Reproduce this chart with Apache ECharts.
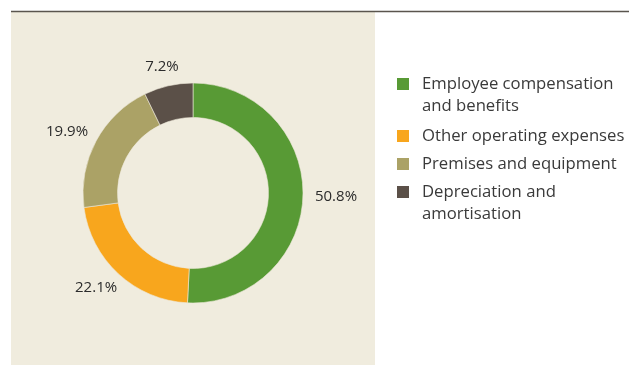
<!DOCTYPE html>
<html>
<head>
<meta charset="utf-8">
<title>Operating expenses</title>
<script src="https://cdn.jsdelivr.net/npm/echarts@6/dist/echarts.min.js"></script>
<style>
  html, body { margin: 0; padding: 0; background: #ffffff; }
  #chart { width: 629px; height: 365px; }
</style>
</head>
<body>
<div id="chart"></div>
<script>
// Expense breakdown, share of total (%)
const categories = [
  'Employee compensation\nand benefits',
  'Other operating expenses',
  'Premises and equipment',
  'Depreciation and\namortisation'
];
const shares = [50.8, 22.1, 19.9, 7.2];
const colors = ['#589a35', '#f8a61d', '#aba266', '#5b5048'];

// Ring geometry
const CX = 193, CY = 193;
const R_IN = 75.5, R_OUT = 110;
const LABEL_RADIUS = 122;
const LABEL_FONT = 15;

const total = shares.reduce((a, b) => a + b, 0);

// Places each percentage outside the ring: the anchor sits on a circle at the
// slice's mid-angle and the box is aligned continuously with that direction
function placeLabel(params) {
  const i = params.dataIndex;
  let before = 0;
  for (let k = 0; k < i; k++) before += shares[k];
  const mid = (before + shares[i] / 2) / total * Math.PI * 2;
  const dx = Math.sin(mid), dy = -Math.cos(mid);
  const w = params.labelRect.width, h = LABEL_FONT;
  return {
    x: CX + dx * LABEL_RADIUS + dx * w / 2,
    y: CY + dy * LABEL_RADIUS + dy * h / 2,
    align: 'center',
    verticalAlign: 'middle'
  };
}

// One legend block per entry; two-line entries use a tall icon box whose
// square sits at the top so it lines up with the first text line
const legendTops = [73, 125, 153, 181];
const SQUARE_TOP = 'path://M0,0L12,0L12,12L0,12Z M0,34L0.001,34';
const legends = categories.map((name, i) => {
  const twoLines = name.indexOf('\n') >= 0;
  return {
    left: 397,
    top: legendTops[i],
    padding: 0,
    orient: 'vertical',
    itemWidth: 12,
    itemHeight: twoLines ? 34 : 12,
    icon: twoLines ? SQUARE_TOP : 'rect',
    selectedMode: false,
    itemStyle: { borderWidth: 0 },
    textStyle: {
      fontFamily: 'Open Sans',
      fontSize: 16.7,
      lineHeight: 22,
      color: '#3a3a3a',
      padding: [0, 0, 0, 8]
    },
    data: [name]
  };
});

const chart = echarts.init(document.getElementById('chart'), null, { renderer: 'canvas' });

chart.setOption({
  animation: false,
  backgroundColor: '#ffffff',
  color: colors,
  graphic: [
    {
      type: 'rect',
      z: -10,
      silent: true,
      shape: { x: 11, y: 12, width: 364, height: 353 },
      style: { fill: '#f0ecde' }
    },
    {
      type: 'line',
      z: -5,
      silent: true,
      shape: { x1: 11, y1: 11.5, x2: 629, y2: 11.5 },
      style: { stroke: '#5a554e', lineWidth: 1.3 }
    }
  ],
  legend: legends,
  series: [
    {
      type: 'pie',
      center: [CX, CY],
      radius: [R_IN, R_OUT],
      startAngle: 90,
      clockwise: true,
      avoidLabelOverlap: false,
      itemStyle: { borderColor: '#ece7d8', borderWidth: 0.6 },
      label: {
        show: true,
        position: 'outside',
        fontFamily: 'Open Sans',
        fontSize: LABEL_FONT,
        color: '#2b2b2b',
        formatter: (p) => p.value.toFixed(1) + '%'
      },
      labelLine: { show: false },
      labelLayout: placeLabel,
      emphasis: { disabled: true },
      data: categories.map((name, i) => ({ name: name, value: shares[i] }))
    }
  ]
});
</script>
</body>
</html>
